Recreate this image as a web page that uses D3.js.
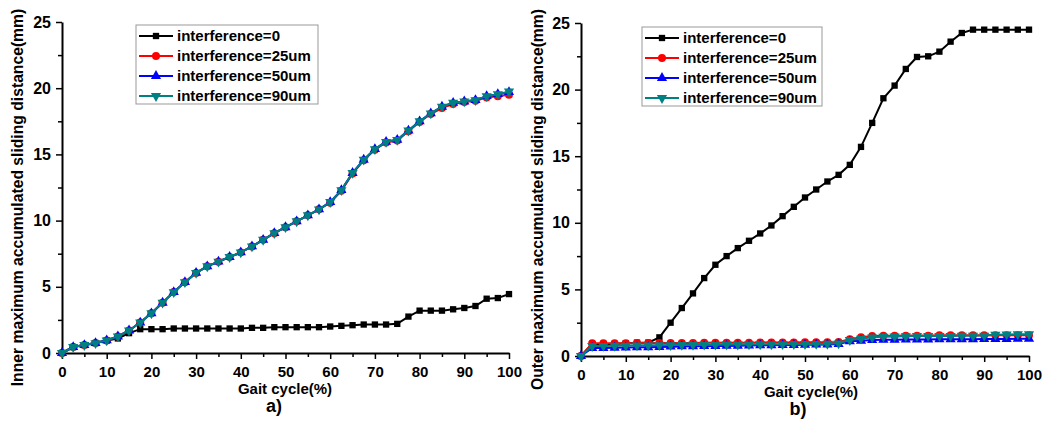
<!DOCTYPE html>
<html>
<head>
<meta charset="utf-8">
<script src="https://cdn.jsdelivr.net/npm/d3@7"></script>
<style>
    body { margin: 0; background: #fff; }
    svg { display: block; font-family: "Liberation Sans", Arial, sans-serif; font-weight: bold; }
    .axis path, .axis line { stroke: #000; }
    .axis text { font-size: 15px; font-weight: bold; fill: #000; }
</style>
</head>
<body>
<div id="chart"></div>
<script>

// Gait cycle sample points (%)
var gait = [0, 2.5, 5, 7.5, 10, 12.5, 15, 17.5, 20, 22.5, 25, 27.5, 30, 32.5, 35, 37.5, 40,
    42.5, 45, 47.5, 50, 52.5, 55, 57.5, 60, 62.5, 65, 67.5, 70, 72.5, 75, 77.5, 80, 82.5, 85,
    87.5, 90, 92.5, 95, 97.5, 100];

var seriesNames = ["interference=0", "interference=25um", "interference=50um", "interference=90um"];
var xTicks = [0, 10, 20, 30, 40, 50, 60, 70, 80, 90, 100];
var yTicks = [0, 5, 10, 15, 20, 25];

// a) inner maximum accumulated sliding distance (mm)
var inner0 = [0, 0.45, 0.6, 0.75, 0.95, 1.1, 1.5, 1.8, 1.8, 1.8, 1.85, 1.85, 1.85, 1.85, 1.85, 1.85, 1.85,
    1.9, 1.9, 1.95, 1.95, 1.95, 1.95, 1.95, 2.0, 2.05, 2.1, 2.15, 2.15, 2.15, 2.2, 2.75, 3.2, 3.2, 3.2,
    3.3, 3.4, 3.55, 4.1, 4.15, 4.45];
var inner25 = [0, 0.45, 0.6, 0.75, 0.95, 1.25, 1.7, 2.3, 3.0, 3.8, 4.6, 5.35, 6.05, 6.55, 6.9, 7.25, 7.6,
    8.05, 8.55, 9.05, 9.5, 9.95, 10.4, 10.85, 11.35, 12.25, 13.55, 14.55, 15.35, 15.9, 16.05, 16.75, 17.45,
    18.05, 18.5, 18.8, 18.95, 19.05, 19.3, 19.4, 19.5];
var inner50 = [0, 0.45, 0.6, 0.75, 0.95, 1.25, 1.7, 2.3, 3.0, 3.8, 4.6, 5.35, 6.05, 6.55, 6.9, 7.25, 7.6,
    8.05, 8.55, 9.05, 9.5, 9.95, 10.4, 10.85, 11.4, 12.3, 13.6, 14.6, 15.4, 15.95, 16.1, 16.8, 17.5,
    18.1, 18.6, 18.9, 19.0, 19.1, 19.4, 19.55, 19.7];
var inner90 = [0, 0.45, 0.6, 0.75, 0.95, 1.25, 1.7, 2.3, 3.0, 3.8, 4.6, 5.35, 6.05, 6.55, 6.9, 7.25, 7.6,
    8.05, 8.55, 9.05, 9.5, 9.95, 10.4, 10.85, 11.4, 12.3, 13.6, 14.6, 15.4, 15.95, 16.1, 16.8, 17.5,
    18.1, 18.6, 18.9, 19.0, 19.1, 19.4, 19.55, 19.75];

// b) outer maximum accumulated sliding distance (mm)
var outer0 = [0, 0.9, 0.9, 0.9, 0.95, 1.0, 1.0, 1.4, 2.5, 3.6, 4.7, 5.85, 6.85, 7.5, 8.1, 8.65, 9.2,
    9.8, 10.5, 11.2, 11.9, 12.5, 13.1, 13.6, 14.35, 15.7, 17.5, 19.35, 20.3, 21.55, 22.45, 22.5, 22.85,
    23.6, 24.25, 24.5, 24.5, 24.5, 24.5, 24.5, 24.5];
var outer25 = [0, 0.95, 0.95, 0.95, 0.95, 0.97, 0.97, 0.97, 0.98, 0.98, 0.98, 1.0, 1.0, 1.0, 1.0, 1.0, 1.02,
    1.02, 1.02, 1.02, 1.03, 1.03, 1.03, 1.05, 1.25, 1.4, 1.5, 1.52, 1.52, 1.53, 1.53, 1.53, 1.55,
    1.55, 1.55, 1.55, 1.55, 1.55, 1.55, 1.55, 1.55];
var outer50 = [0, 0.6, 0.6, 0.62, 0.63, 0.65, 0.66, 0.68, 0.7, 0.72, 0.73, 0.74, 0.75, 0.76, 0.77, 0.78, 0.8,
    0.8, 0.82, 0.83, 0.84, 0.85, 0.86, 0.9, 1.1, 1.15, 1.2, 1.22, 1.22, 1.23, 1.23, 1.24, 1.25,
    1.25, 1.26, 1.26, 1.27, 1.28, 1.28, 1.3, 1.3];
var outer90 = [0, 0.75, 0.76, 0.77, 0.78, 0.8, 0.8, 0.81, 0.82, 0.83, 0.84, 0.85, 0.85, 0.86, 0.86, 0.87, 0.88,
    0.88, 0.89, 0.9, 0.9, 0.91, 0.92, 0.95, 1.2, 1.3, 1.4, 1.45, 1.47, 1.48, 1.5, 1.5, 1.5,
    1.5, 1.52, 1.52, 1.53, 1.6, 1.62, 1.63, 1.63];

var colors = ["#000000", "#ff0000", "#0000ff", "#008080"];
var symbols = [d3.symbolSquare, d3.symbolCircle, d3.symbolTriangle, d3.symbolTriangle];
var symbolSizes = [40, 50, 45, 45];
var symbolRotate = [0, 0, 0, 180];

var svg = d3.select("#chart").append("svg")
    .attr("width", 1045)
    .attr("height", 426);


/*
 * Draw one panel
 */
function drawPanel(p) {
    var g = svg.append("g");

    var x = d3.scaleLinear().domain([0, 100]).range([p.left, p.right]);
    var y = d3.scaleLinear().domain([0, 25]).range([p.bottom, p.top]);

    // minor ticks
    g.append("g")
        .attr("class", "axis")
        .attr("transform", "translate(0," + p.bottom + ")")
        .call(d3.axisBottom(x).tickValues(d3.range(5, 100, 10)).tickSize(4).tickFormat(""))
        .call(function(a) { a.select(".domain").remove(); a.selectAll("line").attr("stroke-width", 1.5); });
    g.append("g")
        .attr("class", "axis")
        .attr("transform", "translate(" + p.left + ",0)")
        .call(d3.axisLeft(y).tickValues(d3.range(2.5, 25, 5)).tickSize(4).tickFormat(""))
        .call(function(a) { a.select(".domain").remove(); a.selectAll("line").attr("stroke-width", 1.5); });

    // major axes
    g.append("g")
        .attr("class", "axis")
        .attr("transform", "translate(0," + p.bottom + ")")
        .call(d3.axisBottom(x).tickValues(xTicks).tickSize(6).tickSizeOuter(0).tickPadding(7))
        .call(function(a) {
            a.select(".domain").attr("stroke-width", 2);
            a.selectAll("line").attr("stroke-width", 1.5);
        });
    g.append("g")
        .attr("class", "axis")
        .attr("transform", "translate(" + p.left + ",0)")
        .call(d3.axisLeft(y).tickValues(yTicks).tickSize(6).tickSizeOuter(0).tickPadding(5))
        .call(function(a) {
            a.select(".domain").attr("stroke-width", 2);
            a.selectAll("line").attr("stroke-width", 1.5);
            a.selectAll("text").style("font-size", "16px");
        });

    var line = d3.line()
        .x(function(d, i) { return x(gait[i]); })
        .y(function(d) { return y(d); });

    p.series.forEach(function(s, k) {
        g.append("path")
            .datum(s)
            .attr("fill", "none")
            .attr("stroke", colors[k])
            .attr("stroke-width", 2)
            .attr("d", line);

        g.selectAll(".m" + k)
            .data(s)
            .enter().append("path")
            .attr("class", "m" + k)
            .attr("fill", colors[k])
            .attr("d", d3.symbol().type(symbols[k]).size(symbolSizes[k]))
            .attr("transform", function(d, i) {
                return "translate(" + x(gait[i]) + "," + y(d) + ") rotate(" + symbolRotate[k] + ")";
            });
    });

    // legend
    var lg = g.append("g").attr("transform", "translate(" + p.legend[0] + "," + p.legend[1] + ")");
    lg.append("rect")
        .attr("width", p.legend[2])
        .attr("height", 79)
        .attr("fill", "#fff")
        .attr("stroke", "#999")
        .attr("stroke-width", 1);
    seriesNames.forEach(function(name, k) {
        var row = lg.append("g").attr("transform", "translate(0," + (11 + k * 20) + ")");
        row.append("line")
            .attr("x1", 3).attr("x2", 37)
            .attr("stroke", colors[k]).attr("stroke-width", 2);
        row.append("path")
            .attr("fill", colors[k])
            .attr("d", d3.symbol().type(symbols[k]).size(symbolSizes[k]))
            .attr("transform", "translate(20,0) rotate(" + symbolRotate[k] + ")");
        row.append("text")
            .attr("x", 41)
            .attr("dy", "0.35em")
            .style("font-size", "15px")
            .text(name);
    });

    // axis labels
    svg.append("text")
        .attr("transform", "translate(" + p.yLabelX + "," + ((p.top + p.bottom) / 2 + 10) + ") rotate(-90)")
        .attr("text-anchor", "middle")
        .attr("dy", "0.35em")
        .style("font-size", "15.7px")
        .text(p.yLabel);

    svg.append("text")
        .attr("x", p.xLabelX)
        .attr("y", p.xLabelY)
        .attr("text-anchor", "middle")
        .style("font-size", "15px")
        .text("Gait cycle(%)");

    svg.append("text")
        .attr("x", p.tagX)
        .attr("y", p.xLabelY + 18)
        .attr("text-anchor", "middle")
        .style("font-size", "18px")
        .text(p.tag);
}

drawPanel({
    left: 62, right: 509, top: 22, bottom: 353,
    series: [inner0, inner25, inner50, inner90],
    legend: [136, 25, 182],
    yLabel: "Inner maximum accumulated sliding distance(mm)",
    yLabelX: 17, xLabelX: 285, xLabelY: 394, tagX: 274, tag: "a)"
});

drawPanel({
    left: 581, right: 1029, top: 23, bottom: 356,
    series: [outer0, outer25, outer50, outer90],
    legend: [642, 27, 180],
    yLabel: "Outer maximum accumulated sliding distance(mm)",
    yLabelX: 537, xLabelX: 811, xLabelY: 397, tagX: 798, tag: "b)"
});

</script>
</body>
</html>
